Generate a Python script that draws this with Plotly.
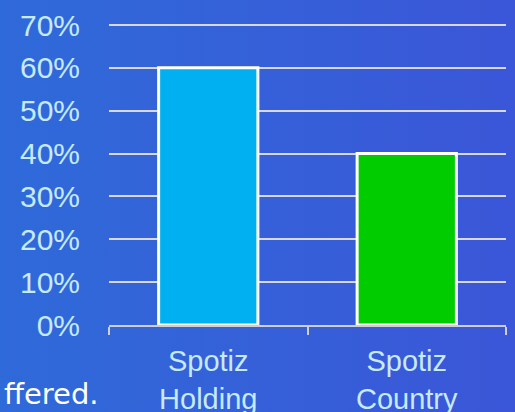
import base64
import plotly.graph_objects as go

categories = ["Spotiz<br>Holding", "Spotiz<br>Country"]
values = [0.60, 0.40]
bar_colors = ["#00b0f0", "#00cc00"]
y_ticks = [0, 0.1, 0.2, 0.3, 0.4, 0.5, 0.6, 0.7]
y_tick_labels = ["0%", "10%", "20%", "30%", "40%", "50%", "60%", "70%"]
note_text = "ffered."

W, H = 515, 412
L, R, T, B = 109, 9, 22, 87
pw, ph = W - L - R, H - T - B

svg = (
    f'<svg xmlns="http://www.w3.org/2000/svg" width="{W}" height="{H}">'
    '<defs><linearGradient id="g" x1="0" y1="0" x2="1" y2="0">'
    '<stop offset="0" stop-color="#2f6ad9"/>'
    '<stop offset="1" stop-color="#3b56d8"/>'
    '</linearGradient></defs>'
    f'<rect width="{W}" height="{H}" fill="url(#g)"/></svg>'
)
bg_src = "data:image/svg+xml;base64," + base64.b64encode(svg.encode()).decode()

fig = go.Figure(
    go.Bar(
        x=categories,
        y=values,
        width=0.5,
        marker=dict(color=bar_colors, line=dict(color="white", width=3)),
        hoverinfo="skip",
    )
)

text_color = "#c6eaff"
fig.update_layout(
    width=W,
    height=H,
    margin=dict(l=L, r=R, t=T, b=B, autoexpand=False),
    paper_bgcolor="#3560d8",
    plot_bgcolor="rgba(0,0,0,0)",
    showlegend=False,
    images=[
        dict(
            source=bg_src,
            xref="paper",
            yref="paper",
            x=-L / pw,
            y=1 + T / ph,
            sizex=W / pw,
            sizey=H / ph,
            xanchor="left",
            yanchor="top",
            sizing="stretch",
            layer="below",
        )
    ],
    xaxis=dict(
        automargin=False,
        showgrid=False,
        showline=True,
        linecolor="#cfcfcf",
        linewidth=2,
        ticks="outside",
        tickson="boundaries",
        ticklen=8,
        tickwidth=2,
        tickcolor="#cfcfcf",
        ticklabelstandoff=9,
        tickfont=dict(family="Liberation Sans, Arial, sans-serif", size=29, color=text_color),
    ),
    yaxis=dict(
        automargin=False,
        range=[0, 0.707],
        tickvals=y_ticks,
        ticktext=y_tick_labels,
        showgrid=True,
        gridcolor="#d8d8d8",
        gridwidth=2,
        zeroline=False,
        showline=False,
        ticks="",
        ticklabelstandoff=28,
        tickfont=dict(family="Liberation Sans, Arial, sans-serif", size=30, color=text_color),
    ),
    annotations=[
        dict(
            text=note_text,
            xref="paper",
            yref="paper",
            x=(101 - L) / pw,
            y=(H - B - 394) / ph,
            xanchor="right",
            yanchor="middle",
            showarrow=False,
            font=dict(family="DejaVu Sans, sans-serif", size=29, color="white"),
        )
    ],
)

fig.write_html(
    "out.html",
    config={"displayModeBar": False},
    post_script="document.body.style.margin='0';document.body.style.overflow='hidden';",
)
